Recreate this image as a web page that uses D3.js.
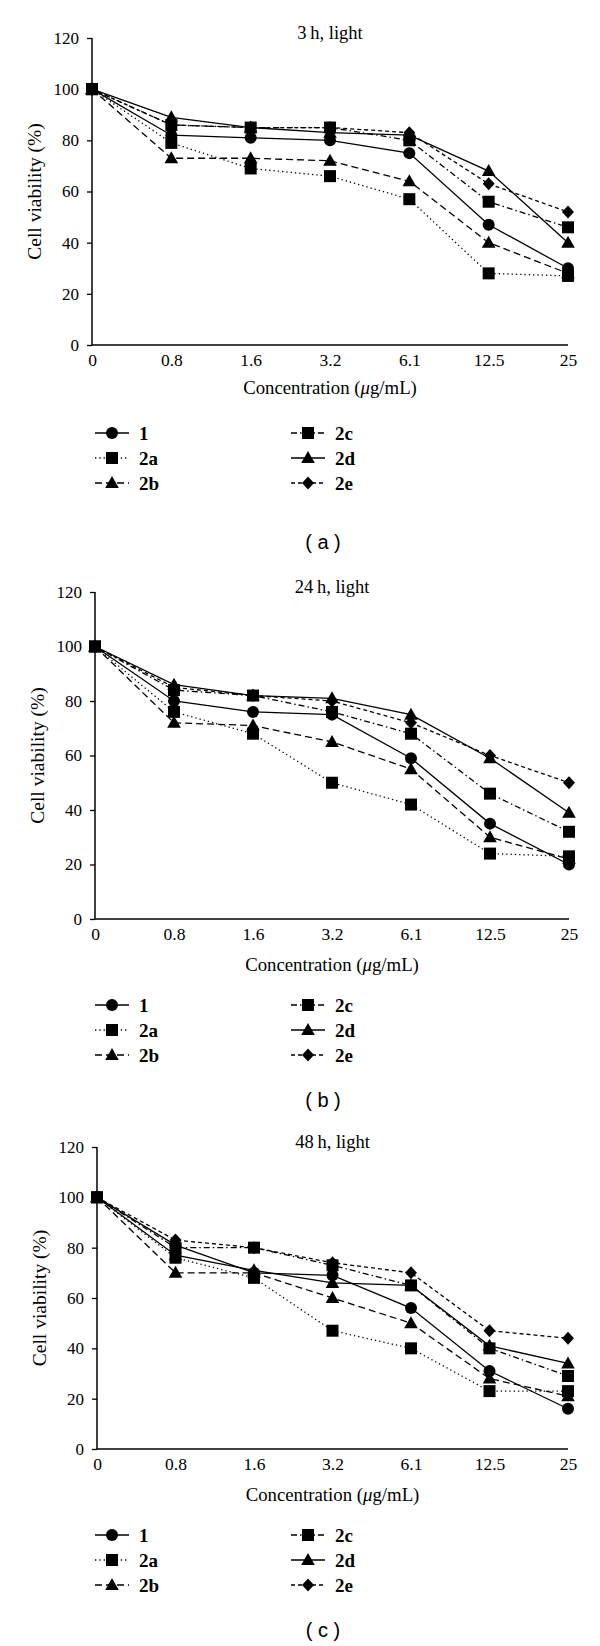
<!DOCTYPE html>
<html><head><meta charset="utf-8">
<script src="https://cdn.jsdelivr.net/npm/d3@7"></script>
<style>body{margin:0;background:#fff}</style>
</head><body><svg id="chart" width="600" height="1646"></svg>
<script>
// ---------- data ----------
const concentrations = ["0", "0.8", "1.6", "3.2", "6.1", "12.5", "25"];
const yTicks = [0, 20, 40, 60, 80, 100, 120];
const seriesNames = ["1", "2a", "2b", "2c", "2d", "2e"];
const panelTitles = ["3\u2009h, light", "24\u2009h, light", "48\u2009h, light"];
const panelLetters = ["( a )", "( b )", "( c )"];

// 3 h, light
const h3_1  = [100, 82, 81, 80, 75, 47, 30];
const h3_2a = [100, 79, 69, 66, 57, 28, 27];
const h3_2b = [100, 73, 73, 72, 64, 40, 28];
const h3_2c = [100, 86, 85, 85, 80, 56, 46];
const h3_2d = [100, 89, 85, 83, 82, 68, 40];
const h3_2e = [100, 86, 85, 85, 83, 63, 52];
// 24 h, light
const h24_1  = [100, 80, 76, 75, 59, 35, 20];
const h24_2a = [100, 76, 68, 50, 42, 24, 23];
const h24_2b = [100, 72, 71, 65, 55, 30, 22];
const h24_2c = [100, 84, 82, 76, 68, 46, 32];
const h24_2d = [100, 86, 82, 81, 75, 59, 39];
const h24_2e = [100, 85, 82, 80, 72, 60, 50];
// 48 h, light
const h48_1  = [100, 81, 70, 69, 56, 31, 16];
const h48_2a = [100, 76, 68, 47, 40, 23, 23];
const h48_2b = [100, 70, 70, 60, 50, 28, 21];
const h48_2c = [100, 80, 80, 73, 65, 40, 29];
const h48_2d = [100, 77, 71, 66, 65, 41, 34];
const h48_2e = [100, 83, 80, 74, 70, 47, 44];

const panelData = [
  [h3_1, h3_2a, h3_2b, h3_2c, h3_2d, h3_2e],
  [h24_1, h24_2a, h24_2b, h24_2c, h24_2d, h24_2e],
  [h48_1, h48_2a, h48_2b, h48_2c, h48_2d, h48_2e]
];

// ---------- styles / layout ----------
const dashes = [null, "1.3,3", "7,4", "6,3,1.5,3", null, "4,3"];
const shapes = ["circle", "square", "triangle", "square", "triangle", "diamond"];
const layouts = [
  {left: 92, right: 568, top: 38,  bottom: 345},
  {left: 95, right: 569, top: 592, bottom: 919},
  {left: 97, right: 568, top: 1147, bottom: 1449}
];
const serif = "'Liberation Serif', 'Times New Roman', serif";

function shapePath(s) {
  if (s === "circle") return "M6,0A6,6 0 1,1 -6,0A6,6 0 1,1 6,0Z";
  if (s === "square") return "M-6,-6H6V6H-6Z";
  if (s === "triangle") return "M0,-7L6.8,5L-6.8,5Z";
  return "M0,-6.5L6,0L0,6.5L-6,0Z";
}

const svg = d3.select("#chart");

layouts.forEach((L, p) => {
  const g = svg.append("g");
  const x = d3.scalePoint().domain(concentrations).range([L.left, L.right]);
  const y = d3.scaleLinear().domain([0, 120]).range([L.bottom, L.top]);

  // y axis
  const ya = g.append("g").attr("transform", `translate(${L.left},0)`)
    .call(d3.axisLeft(y).tickValues(yTicks).tickSize(5).tickPadding(8));
  ya.select(".domain").attr("stroke", "#000").attr("stroke-width", 1.5).attr("d", `M0,${L.top}V${L.bottom}`);
  ya.selectAll(".tick line").attr("stroke", "#000").attr("stroke-width", 1.3);
  ya.selectAll(".tick text").attr("font-family", serif).attr("font-size", 17).attr("fill", "#000");

  // x axis
  const xa = g.append("g").attr("transform", `translate(0,${L.bottom})`)
    .call(d3.axisBottom(x).tickSize(0).tickPadding(9));
  xa.select(".domain").attr("stroke", "#000").attr("stroke-width", 1.5).attr("d", `M${L.left},0H${L.right}`);
  xa.selectAll(".tick text").attr("font-family", serif).attr("font-size", 17.5).attr("fill", "#000");

  const cx = (L.left + L.right) / 2;
  // title
  g.append("text").attr("x", cx).attr("y", L.top + 1)
    .attr("text-anchor", "middle").attr("font-family", serif).attr("font-size", 18.5)
    .text(panelTitles[p]);
  // y label
  g.append("text").attr("transform", `translate(${L.left - 58},${(L.top + L.bottom) / 2}) rotate(-90)`)
    .attr("text-anchor", "middle").attr("dy", "0.35em").attr("font-family", serif).attr("font-size", 19.5)
    .text("Cell viability (%)");
  // x label
  const xl = g.append("text").attr("x", cx).attr("y", L.bottom + 42 + (p > 0 ? 3 : 0))
    .attr("text-anchor", "middle").attr("dy", "0.35em").attr("font-family", serif).attr("font-size", 18.8);
  xl.append("tspan").text("Concentration (");
  xl.append("tspan").attr("font-style", "italic").text("\u03bc");
  xl.append("tspan").text("g/mL)");

  // lines
  const line = d3.line().x((d, i) => x(concentrations[i])).y(d => y(d));
  panelData[p].forEach((vals, s) => {
    g.append("path").attr("d", line(vals)).attr("fill", "none").attr("stroke", "#000")
      .attr("stroke-width", 1.3).attr("stroke-dasharray", dashes[s]);
  });
  panelData[p].forEach((vals, s) => {
    g.selectAll(null).data(vals).enter().append("path")
      .attr("d", shapePath(shapes[s]))
      .attr("transform", (d, i) => `translate(${x(concentrations[i])},${y(d)})`)
      .attr("fill", "#000");
  });

  // legend
  const legTop = L.bottom + (p === 0 ? 88 : 86);
  seriesNames.forEach((name, s) => {
    const col = Math.floor(s / 3), row = s % 3;
    const mx = col === 0 ? 112 : 308;
    const ly = legTop + row * 25;
    const lg = g.append("g");
    lg.append("line").attr("x1", mx - 17).attr("x2", mx + 17).attr("y1", ly).attr("y2", ly)
      .attr("stroke", "#000").attr("stroke-width", 1.3).attr("stroke-dasharray", dashes[s]);
    lg.append("path").attr("d", shapePath(shapes[s])).attr("transform", `translate(${mx},${ly})`).attr("fill", "#000");
    lg.append("text").attr("x", mx + 27).attr("y", ly).attr("dy", "0.35em")
      .attr("font-family", serif).attr("font-weight", "bold").attr("font-size", 19).text(name);
  });

  // panel letter
  g.append("text").attr("x", 323).attr("y", L.bottom + (p === 0 ? 197 : 181)).attr("dy", "0.35em")
    .attr("text-anchor", "middle").attr("font-family", "'Liberation Sans', Arial, sans-serif").attr("font-size", 20)
    .text(panelLetters[p]);
});
</script></body></html>
